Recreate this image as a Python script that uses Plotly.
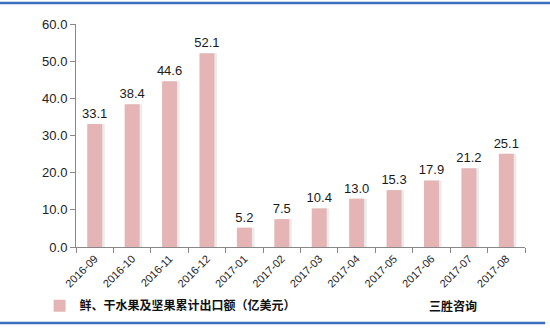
import plotly.graph_objects as go

categories = ["2016-09", "2016-10", "2016-11", "2016-12", "2017-01", "2017-02",
              "2017-03", "2017-04", "2017-05", "2017-06", "2017-07", "2017-08"]
values = [33.1, 38.4, 44.6, 52.1, 5.2, 7.5, 10.4, 13.0, 15.3, 17.9, 21.2, 25.1]
series_name = "鲜、干水果及坚果累计出口额（亿美元）"
y_ticks = [0, 10, 20, 30, 40, 50, 60]

bar_w = 0.4
fig = go.Figure()
# shadow
fig.add_trace(go.Bar(x=categories, y=values, width=bar_w, offset=-bar_w / 2 + 0.07,
                     marker=dict(color="#EBEBEB", line=dict(width=0)),
                     showlegend=False, hoverinfo="skip"))
fig.add_trace(go.Bar(x=categories, y=values, width=bar_w, offset=-bar_w / 2,
                     name="<b>" + series_name + "</b>",
                     marker=dict(color="#E5B5B5", line=dict(width=0)),
                     text=[f"{v:.1f}" for v in values], textposition="outside",
                     constraintext="none",
                     textfont=dict(size=13, color="#1a1a1a", family="Liberation Sans"),
                     cliponaxis=False))

fig.update_layout(
    width=550, height=329,
    margin=dict(l=76, r=25, t=24, b=82, autoexpand=False),
    paper_bgcolor="white", plot_bgcolor="white",
    barmode="overlay",
    uniformtext=dict(mode=False),
    font=dict(family="Liberation Sans", color="#222"),
    showlegend=True,
    legend=dict(orientation="h", xref="container", yref="container",
                x=0.072, y=0.071, xanchor="left", yanchor="middle",
                font=dict(size=12, family="Noto Sans CJK SC", color="#111"),
                itemwidth=30, traceorder="normal", bgcolor="rgba(0,0,0,0)"),
    xaxis=dict(type="category", tickangle=-45, showline=True, linecolor="#888",
               linewidth=1, ticks="outside", tickson="boundaries", ticklen=5,
               tickcolor="#888", tickfont=dict(size=11, color="#222"),
               showgrid=False, automargin=False),
    yaxis=dict(range=[0, 60], tickvals=y_ticks, ticktext=[f"{t:.1f}" for t in y_ticks],
               showline=True, linecolor="#888", linewidth=1, ticks="outside",
               ticklen=5, tickcolor="#888", showgrid=False, zeroline=False,
               tickfont=dict(size=13, color="#222"), automargin=False),
    shapes=[
        dict(type="line", xref="paper", yref="paper", x0=-0.17, x1=1.06, y0=1.094, y1=1.094,
             line=dict(color="#3C6EBF", width=2.5)),
        dict(type="line", xref="paper", yref="paper", x0=-0.17, x1=1.045, y0=-0.341, y1=-0.341,
             line=dict(color="#3C6EBF", width=2.5)),
    ],
    annotations=[
        dict(text="<b>三胜咨询</b>", xref="paper", yref="paper", x=0.84, y=-0.262,
             showarrow=False, font=dict(size=12, family="Noto Sans CJK SC", color="#111"),
             xanchor="center", yanchor="middle"),
    ],
)

fig.write_html("out.html")
